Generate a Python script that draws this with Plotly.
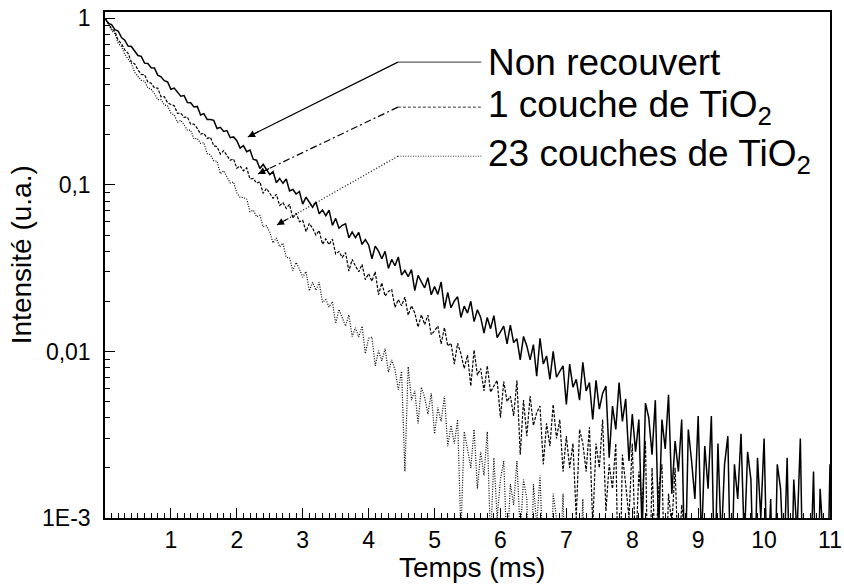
import numpy as np
import plotly.graph_objects as go

# intensity every 0.05 ms, starting at t = 0
step_ms = 0.05

non_recouvert = [
    1.0, 0.932, 0.917, 0.856, 0.839, 0.766, 0.739, 0.682, 0.678, 0.639, 0.598,
    0.591, 0.538, 0.535, 0.505, 0.503, 0.456, 0.446, 0.422, 0.415, 0.375,
    0.381, 0.360, 0.341, 0.344, 0.312, 0.311, 0.294, 0.296, 0.263, 0.268,
    0.247, 0.247, 0.244, 0.218, 0.2215, 0.2095, 0.212, 0.192, 0.194, 0.184,
    0.1665, 0.1721, 0.1583, 0.162, 0.1421, 0.1406, 0.1254, 0.1329, 0.1248, 0.1152,
    0.1201, 0.1030, 0.1093, 0.1022, 0.1084, 0.0919, 0.0938, 0.0881, 0.0911, 0.0767,
    0.0845, 0.0786, 0.0734, 0.0790, 0.0670, 0.0707, 0.0653, 0.0706, 0.0571, 0.0629,
    0.0549, 0.0572, 0.0584, 0.0481, 0.0521, 0.0483, 0.0518, 0.0439, 0.0469, 0.0436,
    0.0360, 0.0429, 0.0400, 0.0360, 0.0399, 0.0315, 0.0357, 0.0327, 0.0369, 0.0287,
    0.0306, 0.0281, 0.0310, 0.0232, 0.0286, 0.0262, 0.0241, 0.0277, 0.0219, 0.0245,
    0.0220, 0.0261, 0.0181, 0.0226, 0.0183, 0.0201, 0.0213, 0.0160, 0.0187, 0.0170,
    0.0200, 0.0151, 0.0178, 0.0160, 0.0129, 0.0160, 0.0137, 0.0164, 0.0121, 0.0131,
    0.0142, 0.0111, 0.0144, 0.0113, 0.0119, 0.0089, 0.0123, 0.0108, 0.0089, 0.0110,
    0.0071, 0.0120, 0.0084, 0.0094, 0.0068, 0.0100, 0.0070, 0.0076, 0.0082, 0.0048,
    0.0084, 0.0061, 0.0068, 0.0051, 0.0086, 0.0058, 0.0065, 0.0039, 0.0067, 0.0045,
    0.0056, 0.0062, 0.0023, 0.0047, 0.0034, 0.0065, 0.0038, 0.0052, 0.0022, 0.0042,
    0.0025, 0.0039, 0.0008, 0.0049, 0.0040, 0.0024, 0.0051, 0.0008, 0.0039, 0.0026,
    0.0055, 0.0014, 0.0029, 0.0019, 0.0039, 0.0004, 0.0034, 0.0022, 0.0013, 0.0041,
    0.0007, 0.0027, 0.0015, 0.0041, 0.0004, 0.0028, 0.0007, 0.0021, 0.0031, 0.0003,
    0.0021, 0.0013, 0.0032, 0.0007, 0.0025, 0.0017, 0.0003, 0.0023, 0.0010, 0.0030,
    0.0004, 0.0013, 0.0002, 0.0021, 0.0015, 0.0005, 0.0023, 0.0002, 0.0017, 0.0008,
    0.0030, 0.0002, 0.0010, 0.0004, 0.0019, 0.0002, 0.0015, 0.0007, 0.0002, 0.0021,
]

une_couche = [
    1.0, 0.941, 0.865, 0.834, 0.739, 0.703, 0.646, 0.617, 0.547, 0.533, 0.490,
    0.461, 0.458, 0.415, 0.408, 0.382, 0.381, 0.338, 0.339, 0.311, 0.304,
    0.2987, 0.2686, 0.2696, 0.2544, 0.2551, 0.2315, 0.2317, 0.2185, 0.2016, 0.2039,
    0.1901, 0.1932, 0.1719, 0.1696, 0.1531, 0.1605, 0.1514, 0.1407, 0.1432, 0.1258,
    0.1299, 0.1214, 0.1266, 0.1084, 0.1092, 0.1024, 0.1044, 0.0890, 0.0953, 0.0891,
    0.0831, 0.0878, 0.0752, 0.0781, 0.0722, 0.0764, 0.0630, 0.0677, 0.0601, 0.0612,
    0.0524, 0.0587, 0.0549, 0.0500, 0.0532, 0.0440, 0.0474, 0.0438, 0.0472, 0.0385,
    0.0398, 0.0367, 0.0392, 0.0304, 0.0357, 0.0326, 0.0301, 0.0333, 0.0270, 0.0293,
    0.0264, 0.0301, 0.0219, 0.0258, 0.0215, 0.0229, 0.0235, 0.0184, 0.0205, 0.0188,
    0.0212, 0.0165, 0.0188, 0.0170, 0.0140, 0.0166, 0.0145, 0.0165, 0.0126, 0.0133,
    0.0142, 0.0111, 0.0139, 0.0108, 0.0112, 0.0084, 0.0112, 0.0097, 0.0079, 0.0095,
    0.0062, 0.0102, 0.0072, 0.0079, 0.0058, 0.0082, 0.0057, 0.0062, 0.0067, 0.0040,
    0.0066, 0.0050, 0.0054, 0.0041, 0.0067, 0.0024, 0.0051, 0.0031, 0.0054, 0.0036,
    0.0043, 0.0047, 0.0021, 0.0037, 0.0027, 0.0048, 0.0030, 0.0039, 0.0019, 0.0031,
    0.0020, 0.0028, 0.0010, 0.0034, 0.0028, 0.0019, 0.0035, 0.0009, 0.0028, 0.0020,
    0.0039, 0.0011, 0.0021, 0.0015, 0.0028, 0.0002, 0.0024, 0.0016, 0.0010, 0.0028,
    0.0006, 0.0019, 0.0012, 0.0029, 0.0002, 0.0020, 0.0006, 0.0015, 0.0021, 0.0003,
    0.0014, 0.0009, 0.0020, 0.0005, 0.0012, 0.0008, 0.0002, 0.0009, 0.0004, 0.0007,
]

vingt_trois_couches = [
    1.0, 0.931, 0.847, 0.809, 0.707, 0.678, 0.608, 0.572, 0.536, 0.474, 0.450,
    0.424, 0.420, 0.382, 0.376, 0.353, 0.325, 0.325, 0.302, 0.299, 0.270,
    0.2628, 0.2377, 0.2443, 0.2294, 0.2128, 0.2132, 0.1885, 0.1902, 0.1775, 0.1793,
    0.1540, 0.1517, 0.1394, 0.1388, 0.1167, 0.1217, 0.1115, 0.1026, 0.1041, 0.0895,
    0.0843, 0.0839, 0.0822, 0.0690, 0.0705, 0.0644, 0.0656, 0.0560, 0.0568, 0.0520,
    0.0448, 0.0480, 0.0425, 0.0447, 0.0367, 0.0365, 0.0306, 0.0342, 0.0313, 0.0279,
    0.0302, 0.0231, 0.0260, 0.0233, 0.0260, 0.0197, 0.0205, 0.0185, 0.0199, 0.0147,
    0.0179, 0.0159, 0.0142, 0.0166, 0.0123, 0.0139, 0.0122, 0.0142, 0.0097, 0.0120,
    0.0122, 0.0082, 0.0101, 0.0088, 0.0104, 0.0075, 0.0089, 0.0078, 0.0059, 0.0076,
    0.0019, 0.0081, 0.0051, 0.0058, 0.0037, 0.0061, 0.0053, 0.0042, 0.0056, 0.0032,
    0.0046, 0.0038, 0.0054, 0.0027, 0.0036, 0.0028, 0.0039, 0.0008, 0.0033, 0.0026,
    0.0020, 0.0034, 0.0015, 0.0025, 0.0018, 0.0033, 0.0007, 0.0023, 0.0010, 0.0017,
    0.0022, 0.0006, 0.0016, 0.0012, 0.0022, 0.0008, 0.0017, 0.0013, 0.0002, 0.0016,
    0.0009, 0.0018, 0.0005, 0.0010, 0.0002, 0.0014, 0.0010, 0.0005, 0.0014, 0.0002,
    0.0006, 0.0003, 0.0008, 0.0004, 0.0013, 0.0002, 0.0007, 0.0005, 0.0003, 0.0006,
]

x_ticks = [1, 2, 3, 4, 5, 6, 7, 8, 9, 10, 11]
y_ticks = [1, 0.1, 0.01, 0.001]
y_tick_text = ['1', '0,1', '0,01', '1E-3']
y_minor = [m * 10.0 ** e for e in (-3, -2, -1) for m in range(2, 10)]

labels = ['Non recouvert', '1 couche de TiO<sub>2</sub>', '23 couches de TiO<sub>2</sub>']
curve_dash = ['solid', '3px,1.5px', '1px,1.5px']
arrow_dash = ['solid', '7px,3px,2px,3px', '1px,2px']
sample_dash = ['solid', '3px,2px', '1px,1.5px']

# label rows and arrow tips in paper coordinates
label_y = [0.901, 0.812, 0.715]
tip_x = [0.197, 0.211, 0.237]
tip_y = [0.753, 0.680, 0.579]

FONT = 'Liberation Sans, Arial, sans-serif'


def temps(values):
    return np.round(np.arange(len(values)) * step_ms, 2)


fig = go.Figure()
for vals, dash, w in [(vingt_trois_couches, curve_dash[2], 1.2),
                      (une_couche, curve_dash[1], 1.2),
                      (non_recouvert, curve_dash[0], 1.5)]:
    fig.add_trace(go.Scatter(x=temps(vals), y=vals, mode='lines',
                             line=dict(color='black', width=w, dash=dash),
                             showlegend=False, hoverinfo='skip'))

for i in range(3):
    # line sample next to the label
    fig.add_shape(type='line', xref='paper', yref='paper',
                  x0=0.404, x1=0.519, y0=label_y[i], y1=label_y[i],
                  line=dict(color='#333', width=1, dash=sample_dash[i]))
    # arrow shaft
    fig.add_shape(type='line', xref='paper', yref='paper',
                  x0=0.404, y0=label_y[i], x1=tip_x[i], y1=tip_y[i],
                  line=dict(color='black', width=1.2, dash=arrow_dash[i]))
    # arrow head
    dx = (0.404 - tip_x[i]) * 725
    dy = (label_y[i] - tip_y[i]) * 506
    n = (dx ** 2 + dy ** 2) ** 0.5
    fig.add_annotation(xref='paper', yref='paper', x=tip_x[i], y=tip_y[i],
                       ax=14 * dx / n, ay=-14 * dy / n, text='', showarrow=True,
                       arrowhead=2, arrowsize=1.2, arrowwidth=1.2, arrowcolor='black',
                       standoff=0)
    fig.add_annotation(xref='paper', yref='paper', x=0.525, y=label_y[i],
                       xanchor='left', yanchor='middle', text=labels[i], showarrow=False,
                       font=dict(family=FONT, size=37, color='black'))

# axis titles placed as annotations so they sit where the original has them
fig.add_annotation(xref='paper', yref='paper', x=0.506, y=-0.098, text='Temps (ms)',
                   showarrow=False, xanchor='center', yanchor='middle',
                   font=dict(family=FONT, size=28, color='black'))
fig.add_annotation(xref='paper', yref='paper', x=-0.114, y=0.52, text='Intensité (u.a.)',
                   textangle=-90, showarrow=False, xanchor='center', yanchor='middle',
                   font=dict(family=FONT, size=28, color='black'))

axis_common = dict(showline=True, linecolor='black', linewidth=1.5, mirror=True,
                   showgrid=False, zeroline=False, ticks='inside', ticklen=10,
                   tickwidth=1.3, tickcolor='black', automargin=False,
                   tickfont=dict(family=FONT, size=23, color='black'))

fig.update_xaxes(range=[0, 11], tickmode='array', tickvals=x_ticks,
                 minor=dict(tick0=0, dtick=0.1, ticks='inside', ticklen=5,
                            tickwidth=1, tickcolor='black', showgrid=False),
                 ticklabelstandoff=1, **axis_common)
fig.update_yaxes(type='log', range=[-3, 0.038], tickmode='array', tickvals=y_ticks,
                 ticktext=y_tick_text,
                 minor=dict(tickmode='array', tickvals=y_minor, ticks='inside', ticklen=5,
                            tickwidth=1, tickcolor='black', showgrid=False),
                 ticklabelstandoff=8, **axis_common)

fig.update_layout(width=844, height=586, autosize=False,
                  margin=dict(l=105, r=14, t=12, b=68),
                  plot_bgcolor='white', paper_bgcolor='white')

fig.write_html('out.html', config={'displayModeBar': False},
               post_script="document.body.style.margin='0';"
                           "document.body.style.overflow='hidden';")
